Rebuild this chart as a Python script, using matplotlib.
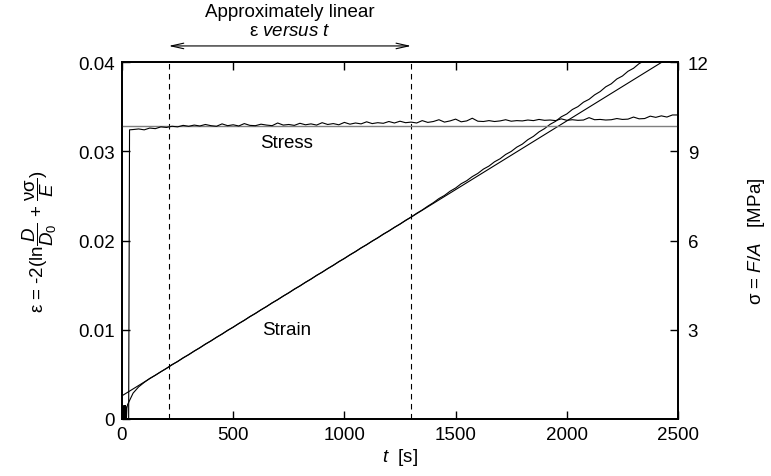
import matplotlib
matplotlib.use("Agg")
import matplotlib.pyplot as plt

plt.rcParams['font.family'] = ['Liberation Sans', 'DejaVu Sans']
plt.rcParams['mathtext.fontset'] = 'custom'
plt.rcParams['mathtext.rm'] = 'Liberation Sans'
plt.rcParams['mathtext.it'] = 'Liberation Sans:italic'
plt.rcParams['mathtext.bf'] = 'Liberation Sans:bold'

# strain data (time in s, strain)
strain_t = [0, 1, 2, 3, 4, 5, 6, 7, 8, 9, 10, 11, 12, 13, 14, 15, 16, 17, 18, 19, 20, 22,
            25, 50, 75, 100, 125, 150, 175, 200, 225, 250, 275, 300, 325, 350, 375, 400,
            425, 450, 475, 500, 525, 550, 575, 600, 625, 650, 675, 700, 725, 750, 775, 800,
            825, 850, 875, 900, 925, 950, 975, 1000, 1025, 1050, 1075, 1100, 1125, 1150,
            1175, 1200, 1225, 1250, 1275, 1300, 1325, 1350, 1375, 1400, 1425, 1450, 1475,
            1500, 1525, 1550, 1575, 1600, 1625, 1650, 1675, 1700, 1725, 1750, 1775, 1800,
            1825, 1850, 1875, 1900, 1925, 1950, 1975, 2000, 2025, 2050, 2075, 2100, 2125,
            2150, 2175, 2200, 2225, 2250, 2275, 2300, 2325, 2350]
strain_eps = [0.0, 0.0014, 0.0001, 0.0013, 0.0, 0.0015, 0.0002, 0.0012, 0.0, 0.0014, 0.0001,
              0.0015, 0.0, 0.0013, 0.0002, 0.0015, 0.0, 0.0014, 0.0001, 0.0013, 0.0, 0.0012,
              0.0016, 0.0029, 0.0036, 0.0041, 0.00455, 0.0049, 0.0053, 0.00566, 0.0061,
              0.00643, 0.00686, 0.0072, 0.00762, 0.00797, 0.0084, 0.00874, 0.00916, 0.00951,
              0.00994, 0.01028, 0.0107, 0.01105, 0.01148, 0.01182, 0.01224, 0.01259, 0.01302,
              0.01336, 0.01378, 0.01413, 0.01456, 0.0149, 0.01532, 0.01567, 0.0161, 0.01644,
              0.01686, 0.01721, 0.01764, 0.01798, 0.0184, 0.01875, 0.01918, 0.01952, 0.01994,
              0.02029, 0.02072, 0.02106, 0.02148, 0.02183, 0.02226, 0.02262, 0.02305, 0.02342,
              0.02385, 0.02424, 0.0247, 0.02505, 0.02552, 0.02588, 0.02636, 0.0267, 0.02716,
              0.02752, 0.028, 0.02834, 0.02882, 0.02916, 0.02964, 0.02998, 0.03046, 0.0308,
              0.0313, 0.03167, 0.03217, 0.03254, 0.03302, 0.03336, 0.03386, 0.03418, 0.03468,
              0.035, 0.0355, 0.03582, 0.03632, 0.03669, 0.03722, 0.03756, 0.0381, 0.03843,
              0.03896, 0.0393, 0.03982, 0.04015]

# linear fit of strain
fit_t = [0, 2500]
fit_eps = [0.0026, 0.0411]

# stress data (time in s, MPa)
stress_t = [0, 30, 34, 50, 75, 100, 125, 150, 175, 200, 225, 250, 275, 300, 325, 350, 375,
            400, 425, 450, 475, 500, 525, 550, 575, 600, 625, 650, 675, 700, 725, 750, 775,
            800, 825, 850, 875, 900, 925, 950, 975, 1000, 1025, 1050, 1075, 1100, 1125, 1150,
            1175, 1200, 1225, 1250, 1275, 1300, 1325, 1350, 1375, 1400, 1425, 1450, 1475,
            1500, 1525, 1550, 1575, 1600, 1625, 1650, 1675, 1700, 1725, 1750, 1775, 1800,
            1825, 1850, 1875, 1900, 1925, 1950, 1975, 2000, 2025, 2050, 2075, 2100, 2125,
            2150, 2175, 2200, 2225, 2250, 2275, 2300, 2325, 2350, 2375, 2400, 2425, 2450,
            2475, 2500]
stress_mpa = [0.0, 0.0, 9.72, 9.73, 9.75, 9.72, 9.78, 9.76, 9.82, 9.80, 9.84, 9.82, 9.87, 9.84,
              9.88, 9.85, 9.90, 9.86, 9.84, 9.92, 9.86, 9.89, 9.85, 9.93, 9.87, 9.86, 9.91,
              9.88, 9.86, 9.95, 9.88, 9.90, 9.87, 9.94, 9.89, 9.92, 9.88, 9.96, 9.90, 9.93,
              9.89, 9.97, 9.91, 9.95, 9.92, 9.99, 9.93, 9.96, 9.94, 10.00, 9.95, 10.01, 9.96,
              9.98, 9.95, 10.03, 9.97, 10.00, 10.06, 9.98, 10.02, 10.08, 9.99, 10.02, 10.11,
              10.01, 10.00, 10.03, 10.00, 10.02, 10.06, 10.01, 10.03, 10.02, 10.05, 10.03,
              10.07, 10.04, 10.05, 10.03, 10.09, 10.04, 10.06, 10.04, 10.05, 10.13, 10.06,
              10.07, 10.05, 10.06, 10.10, 10.07, 10.08, 10.15, 10.09, 10.10, 10.18, 10.14,
              10.19, 10.15, 10.22, 10.22]

# mean stress level
stress_ref_t = [0, 2500]
stress_ref = [9.86, 9.86]

linear_range = [210, 1300]

fig = plt.figure(figsize=(7.71, 4.77), dpi=100)
ax = fig.add_axes([0.1582, 0.1195, 0.7212, 0.7484])
ax2 = ax.twinx()

ax.plot(strain_t, strain_eps, color='black', lw=0.8)
ax.plot(fit_t, fit_eps, color='black', lw=0.8)
for x in linear_range:
    ax.axvline(x, color='black', lw=0.8, ls=(0, (5, 4)))

ax2.plot(stress_ref_t, stress_ref, color='#7f7f7f', lw=1.0)
ax2.plot(stress_t, stress_mpa, color='black', lw=0.8)

ax.set_xlim(0, 2500)
ax.set_ylim(0, 0.04)
ax2.set_ylim(0, 12)

ax.set_xticks([0, 500, 1000, 1500, 2000, 2500])
ax.set_yticks([0, 0.01, 0.02, 0.03, 0.04])
ax.set_yticklabels(['0', '0.01', '0.02', '0.03', '0.04'])
ax2.set_yticks([3, 6, 9, 12])

fs = 13.5
ax.tick_params(direction='in', length=6, width=1.0, labelsize=fs, top=True, pad=5)
ax.tick_params(axis='y', right=False)
ax2.tick_params(direction='in', length=6, width=1.0, labelsize=fs, pad=7)
for a in (ax, ax2):
    for s in a.spines.values():
        s.set_linewidth(1.3)

ax.set_xlabel(r'$\mathit{t}$  [s]', fontsize=fs, labelpad=2)
ax.set_ylabel(r'ε = -2(ln$\dfrac{\mathit{D}}{\mathit{D}_0}$ + $\dfrac{\mathrm{νσ}}{\mathit{E}}$)',
              fontsize=fs, labelpad=14)
ax2.set_ylabel(r'σ = $\mathit{F/A}$   [MPa]', fontsize=fs, labelpad=27)

ax.text(742, 0.0310, 'Stress', fontsize=fs, ha='center', va='center')
ax.text(742, 0.0100, 'Strain', fontsize=fs, ha='center', va='center')

mid = (linear_range[0] + linear_range[1]) / 2
ax.annotate('', xy=(linear_range[0], 0.0418), xytext=(linear_range[1], 0.0418),
            annotation_clip=False,
            arrowprops=dict(arrowstyle='<->,head_length=0.9,head_width=0.2',
                            color='black', lw=0.8, shrinkA=0, shrinkB=0))
ax.text(mid, 0.0457, 'Approximately linear', fontsize=fs, ha='center', va='center',
        clip_on=False)
ax.text(mid, 0.0435, r'ε $\mathit{versus}\ \mathit{t}$', fontsize=fs, ha='center',
        va='center', clip_on=False)

fig.savefig('out.png', dpi=100)
